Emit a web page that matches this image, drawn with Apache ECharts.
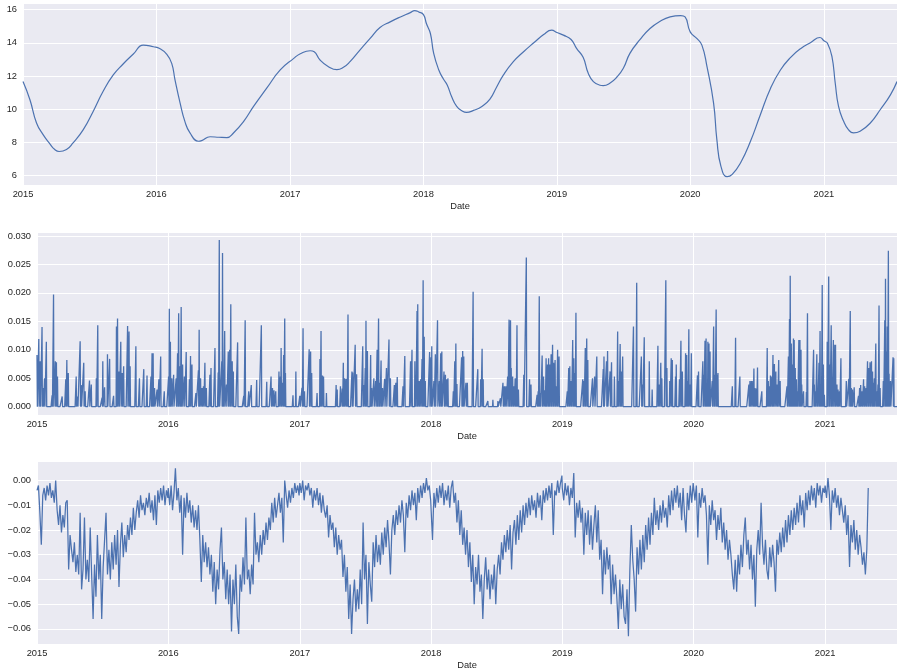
<!DOCTYPE html>
<html><head><meta charset="utf-8">
<script src="https://cdn.jsdelivr.net/npm/echarts@6/dist/echarts.min.js"></script>
<style>html,body{margin:0;padding:0;background:#fff}#c{width:897px;height:671px}</style>
</head><body><div id="c"></div>
<script>
// ---------- Panel 1: smooth trend (date, value) ----------
const trendDates = [
'2015-01-01','2015-01-20','2015-02-07','2015-02-25','2015-03-15','2015-03-29','2015-04-10','2015-04-30','2015-05-18','2015-06-15','2015-07-12','2015-08-08','2015-09-05','2015-10-02','2015-10-30','2015-11-26','2015-12-24',
'2016-01-10','2016-01-29','2016-02-12','2016-02-21','2016-03-06','2016-03-19','2016-04-02','2016-04-25','2016-05-04','2016-05-27','2016-06-20','2016-07-12','2016-07-30','2016-08-27','2016-09-23','2016-10-29','2016-12-05',
'2017-01-11','2017-01-29','2017-02-25','2017-03-08','2017-03-24','2017-04-16','2017-05-09','2017-05-27','2017-06-14','2017-07-11','2017-08-08','2017-09-04','2017-10-02','2017-10-30','2017-11-26','2017-12-08','2017-12-19',
'2018-01-01','2018-01-09','2018-01-20','2018-01-29','2018-02-12','2018-02-25','2018-03-07','2018-03-19','2018-04-02','2018-04-16','2018-04-29','2018-05-18','2018-06-10','2018-07-02','2018-07-20','2018-08-08','2018-09-04','2018-10-02','2018-10-30','2018-11-26','2018-12-18',
'2019-01-01','2019-01-19','2019-02-09','2019-02-24','2019-03-14','2019-03-28','2019-04-11','2019-04-29','2019-05-08','2019-05-26','2019-06-14','2019-07-02','2019-07-20','2019-08-17','2019-09-13','2019-10-11','2019-11-07','2019-12-06','2019-12-18',
'2020-01-01','2020-01-19','2020-02-02','2020-02-16','2020-03-05','2020-03-14','2020-03-25','2020-04-11','2020-04-25','2020-05-18','2020-06-14','2020-07-11','2020-08-08','2020-09-04','2020-10-02','2020-10-30','2020-11-26','2020-12-21',
'2021-01-01','2021-01-11','2021-01-23','2021-02-01','2021-02-10','2021-02-24','2021-03-09','2021-03-23','2021-04-10','2021-05-08','2021-06-04','2021-07-02','2021-07-20'];
const trendValues = [
11.66,10.56,9.16,8.46,7.92,7.56,7.44,7.56,7.96,8.76,9.86,11.06,12.06,12.72,13.32,13.86,13.76,
13.66,13.32,12.76,11.76,10.36,9.26,8.56,8.06,8.10,8.33,8.30,8.28,8.56,9.26,10.16,11.26,12.36,
13.06,13.34,13.52,13.46,12.96,12.56,12.38,12.52,12.86,13.56,14.26,14.92,15.26,15.56,15.82,15.94,15.86,
15.70,15.16,14.56,13.36,12.36,11.80,11.46,10.76,10.16,9.90,9.80,9.92,10.16,10.60,11.32,12.06,12.86,13.46,14.00,14.50,14.76,
14.62,14.46,14.20,13.66,13.12,12.16,11.66,11.44,11.42,11.56,11.92,12.46,13.36,14.20,14.86,15.30,15.56,15.64,15.56,
14.66,14.26,13.86,12.56,10.36,8.16,6.56,5.92,6.06,6.76,8.06,9.66,11.26,12.36,13.12,13.66,14.02,14.32,
14.12,13.96,13.16,11.56,10.16,9.26,8.76,8.56,8.66,9.16,9.96,10.86,11.66];

// ---------- Panel 2: spikes, [day of year, value x 1e-3]; other days 0 ----------
const spikes2015 = [[0,9.1],[5,11.9],[9,8.0],[14,14.0],[17,3.3],[21,5.0],[26,11.4],[42,2.0],[46,19.7],[51,8.0],[54,7.8],[57,5.3],[70,1.8],[80,4.8],[83,8.2],[87,5.9],[109,5.3],[113,1.8],[120,11.5],[123,3.8],[130,7.7],[134,2.7],[146,4.6],[151,3.9],[165,5.0],[169,14.3],[181,1.6],[183,8.0],[188,3.4],[196,9.2],[202,8.4],[213,1.9],[221,14.1],[224,15.5],[228,6.2],[233,11.4],[237,5.9],[241,7.1],[252,14.2],[256,13.2],[259,7.1],[275,10.6],[285,5.0],[297,6.6],[306,5.5],[317,5.3],[320,9.4],[323,9.4],[327,3.3],[334,3.0],[339,4.8],[344,8.8],[354,2.7]];
const spikes2016 = [[1,5.3],[3,17.2],[6,11.4],[10,5.0],[15,5.6],[22,5.0],[26,9.4],[29,16.4],[33,7.1],[36,17.5],[40,7.4],[45,5.3],[50,9.6],[59,4.8],[62,8.9],[66,7.4],[77,2.4],[84,6.4],[86,13.5],[90,5.0],[94,3.3],[98,3.6],[102,7.7],[106,3.3],[116,5.6],[119,6.8],[130,10.3],[139,6.0],[142,29.3],[149,8.0],[151,27.0],[153,3.3],[157,13.3],[162,3.9],[167,9.7],[171,10.0],[174,18.0],[178,8.0],[181,6.2],[193,11.3],[210,1.9],[214,15.2],[224,2.7],[231,3.8],[246,4.7],[259,14.3],[274,4.4],[286,5.3],[290,3.3],[294,2.9],[299,2.7],[308,6.2],[312,5.3],[314,10.3],[318,4.2],[321,9.1],[324,15.5],[326,5.9],[347,2.0],[355,6.2]];
const spikes2017 = [[0,1.9],[6,3.3],[9,13.8],[13,2.7],[26,10.1],[30,9.7],[33,5.9],[48,2.4],[56,8.4],[59,13.3],[63,5.5],[66,5.3],[74,2.4],[101,3.8],[104,3.0],[113,3.6],[118,3.2],[121,7.7],[124,5.0],[128,4.9],[131,4.9],[134,16.2],[145,6.2],[147,6.0],[154,10.9],[158,5.7],[175,10.6],[178,3.8],[182,6.8],[184,15.1],[188,9.8],[197,9.1],[200,3.3],[206,5.0],[211,4.5],[215,10.0],[219,15.5],[222,4.2],[226,8.1],[230,3.3],[236,4.9],[241,6.8],[248,11.8],[252,5.0],[263,3.8],[267,4.2],[271,5.2],[287,3.6],[292,8.9],[308,8.0],[312,10.0],[320,8.0],[322,4.5],[326,16.8],[328,18.0],[332,4.5],[336,4.8],[340,8.4],[343,22.2],[346,12.3],[349,4.5],[361,9.6]];
const spikes2018 = [[0,8.7],[2,10.6],[8,4.5],[12,9.2],[18,15.2],[23,4.5],[27,9.4],[30,9.7],[36,6.2],[40,5.6],[44,4.8],[47,5.0],[62,2.7],[66,8.0],[69,11.1],[72,4.0],[85,8.7],[88,9.8],[91,8.8],[97,4.2],[101,4.2],[117,20.2],[130,6.6],[138,4.8],[142,10.2],[145,4.8],[158,1.0],[172,1.2],[186,1.0],[193,1.5],[200,4.2],[204,3.6],[208,3.6],[213,5.3],[217,15.3],[221,15.2],[223,6.8],[227,5.3],[230,3.6],[234,5.0],[236,4.5],[239,14.3],[243,3.0],[258,5.6],[265,26.2],[274,4.8],[278,3.9],[295,2.1],[298,2.7],[301,19.4],[304,2.4],[309,9.0],[313,5.3],[317,2.9],[320,8.5],[324,7.4],[327,8.5],[330,7.4],[334,9.2],[338,10.9],[341,7.7],[345,8.2],[349,3.6],[352,10.0],[356,8.8]];
const spikes2019 = [[14,2.7],[18,6.8],[21,7.1],[25,4.5],[29,11.7],[32,8.5],[35,5.9],[38,16.5],[57,4.8],[60,4.5],[64,10.3],[68,12.0],[71,8.2],[84,5.0],[90,5.3],[96,8.8],[114,6.6],[116,8.8],[123,8.0],[126,9.8],[133,6.2],[137,7.8],[145,5.3],[154,13.2],[157,4.5],[161,11.0],[164,6.2],[168,8.8],[198,14.1],[207,21.8],[220,8.8],[223,3.9],[228,12.2],[242,8.0],[250,3.0],[266,10.7],[270,3.9],[274,7.7],[277,5.0],[288,22.2],[291,6.8],[299,4.5],[303,8.5],[306,8.2],[315,5.3],[317,7.4],[326,4.8],[330,11.6],[334,6.2],[343,9.4],[346,9.1],[349,4.5],[352,13.6],[356,3.9],[359,9.4]];
const spikes2020 = [[11,5.5],[14,6.2],[26,8.0],[28,5.6],[32,11.6],[35,12.0],[38,3.9],[40,11.4],[43,11.1],[46,9.7],[52,4.5],[56,14.1],[59,5.6],[63,17.1],[65,5.6],[68,5.9],[108,3.6],[117,12.1],[129,5.3],[154,3.9],[157,4.5],[161,4.5],[165,4.5],[168,6.7],[171,3.3],[175,3.2],[178,6.9],[190,2.7],[205,10.3],[208,4.5],[211,3.6],[214,5.5],[218,5.3],[221,9.1],[225,7.5],[229,6.2],[233,3.9],[237,8.2],[241,4.5],[260,3.6],[264,8.8],[267,15.4],[269,23.0],[272,11.1],[275,7.4],[278,12.0],[280,11.7],[283,6.8],[286,4.8],[289,2.7],[293,11.7],[296,11.7],[299,10.0],[301,3.9],[306,2.7],[314,2.6],[317,16.4],[334,10.0],[336,3.9],[339,2.7],[343,9.2],[345,2.7],[349,7.7],[352,13.3],[355,3.3],[358,21.4],[361,7.4],[364,2.1]];
const spikes2021 = [[6,11.4],[10,22.9],[13,7.4],[17,14.3],[19,4.5],[23,11.7],[27,10.9],[29,10.9],[33,3.9],[36,3.0],[40,2.7],[44,8.5],[59,4.5],[66,4.9],[70,16.8],[73,3.3],[76,3.0],[81,3.4],[93,1.9],[96,3.3],[99,3.8],[103,2.7],[107,4.8],[110,3.6],[114,3.3],[118,8.0],[121,6.8],[125,7.8],[129,8.0],[132,6.2],[134,4.2],[137,5.0],[141,11.1],[144,2.7],[147,3.9],[150,17.8],[153,3.3],[162,4.5],[166,15.2],[168,22.5],[171,9.7],[173,14.1],[176,27.4],[178,5.8],[182,4.5],[189,8.7],[191,8.5]];

// ---------- Panel 3: every 4th day from 1 Jan of each year, value x 1e-3 ----------
const resid2015 = [-4,-2,-13,-26,-6,-3,-8,-2,-6,-1,-7,-4,-9,0,-12,-18,-10,-21,-14,-19,-9,-8,-36,
-22,-28,-33,-25,-37,-30,-38,-13,-44,-36,-15,-40,-32,-41,-19,-38,-56,-34,-47,-22,-40,-30,-56,
-35,-24,-13,-38,-28,-40,-25,-36,-22,-34,-20,-43,-26,-17,-31,-22,-29,-18,-24,-15,-22,-11,-20,
-13,-8,-15,-6,-12,-9,-14,-7,-11,-5,-13,-8,-16,-6,-18,-4,-9,-3,-8,-2,-10,-4,-7];
const resid2016 = [-3,-10,-2,-12,-5,5,-8,-3,-13,-6,-30,-7,-15,-5,-13,-8,-17,-10,-19,-12,-20,-10,-24,
-41,-22,-33,-25,-35,-27,-38,-30,-45,-33,-50,-36,-44,-28,-19,-40,-33,-48,-36,-50,-38,-61,-40,
-50,-34,-55,-62,-38,-45,-31,-42,-15,-40,-36,-46,-34,-42,-13,-30,-25,-33,-22,-30,-20,-26,-17,
-24,-15,-20,-9,-17,-7,-15,-10,-5,-13,-7,-25,0,-6,-11,-4,-9,-3,-7,-1,-5,-2,-6];
const resid2017 = [-1,-5,0,-8,-2,-4,-1,-6,-3,-11,-4,-8,-3,-10,-5,-13,-6,-12,-15,-10,-23,-14,-20,
-17,-27,-19,-30,-22,-28,-24,-39,-30,-45,-35,-56,-42,-62,-48,-40,-53,-44,-52,-36,-50,-17,-40,
-30,-58,-33,-42,-49,-25,-35,-22,-33,-26,-34,-21,-30,-19,-27,-16,-25,-38,-20,-14,-22,-12,-18,
-10,-17,-8,-14,-29,-9,-15,-6,-12,-4,-10,-5,-16,-3,-9,-2,-7,-1,-5,1,-4,-2,-8];
const resid2018 = [-8,-24,-5,-11,-3,-9,-2,-7,-1,-10,-4,-8,-2,-11,-3,0,-9,-5,-17,-8,-22,-12,-26,
-19,-30,-20,-35,-25,-41,-30,-50,-35,-42,-30,-45,-38,-56,-40,-31,-44,-36,-48,-38,-44,-34,-50,
-36,-30,-38,-25,-32,-22,-29,-20,-28,-18,-36,-21,-16,-26,-14,-24,-12,-21,-10,-18,-9,-15,-7,
-14,-6,-12,-8,-15,-5,-11,-6,-16,-4,-9,-3,-8,-2,-7,-1,-22,-4,-6,0,-5,-1,2];
const resid2019 = [-3,-8,-1,-6,-2,-10,-3,-7,3,-23,-9,-15,-8,-17,-11,-30,-13,-22,-12,-26,-14,-28,-18,
-10,-25,-12,-32,-24,-46,-28,-38,-27,-36,-30,-50,-34,-46,-38,-48,-60,-40,-52,-42,-55,-58,-44,
-63,-36,-18,-32,-40,-53,-27,-38,-24,-36,-22,-33,-18,-28,-15,-26,-13,-22,-7,-18,-12,-20,-10,
-17,-8,-15,-11,-19,-6,-14,-4,-12,-3,-9,-2,-11,-5,-16,-3,-14,-21,-5,-12,-2,-9,-1];
const resid2020 = [-1,-8,-2,-23,-5,-11,-3,-9,-6,-14,-34,-10,-18,-8,-16,-12,-24,-14,-20,-11,-25,-17,-28,
-20,-32,-24,-30,-38,-44,-32,-45,-30,-38,-26,-35,-22,-15,-30,-24,-36,-26,-40,-30,-51,-28,-20,
-30,-9,-26,-34,-24,-36,-40,-27,-35,-26,-33,-45,-24,-30,-21,-29,-19,-27,-16,-25,-14,-22,-12,
-20,-11,-18,-9,-17,-6,-14,-8,-19,-5,-12,-4,-10,-2,-8,-3,-11,-1,-6,-2,-9,-3,-5];
const resid2021 = [-2,-7,1,-6,-20,-4,-9,-3,-11,-6,-14,-7,-12,-17,-10,-22,-14,-35,-18,-25,-16,-28,-20,-30,-22,-27,-34,-29,-38,-28,-3];

const yTicks1 = [6, 8, 10, 12, 14, 16];
const xMin = '2015-01-01', xMax = '2021-07-20';

// ---------- build ----------
const DAY = 86400000;
function ts(y, d) { return new Date(y, 0, 1 + d).getTime(); }
const trendData = trendDates.map((d, i) => [d, trendValues[i]]);

const startTs = ts(2015, 0), endTs = ts(2021, 200);
const nDays = Math.round((endTs - startTs) / DAY) + 1;
const spikeVals = new Array(nDays).fill(0);
const spikeSets = {2015: spikes2015, 2016: spikes2016, 2017: spikes2017, 2018: spikes2018, 2019: spikes2019, 2020: spikes2020, 2021: spikes2021};
Object.keys(spikeSets).forEach(y => {
  spikeSets[y].forEach(([d, v]) => {
    const idx = Math.round((ts(+y, d) - startTs) / DAY);
    if (idx >= 0 && idx < nDays) spikeVals[idx] = v / 1000;
  });
});
const spikeData = spikeVals.map((v, i) => [ts(2015, i), v]);

const residSets = {2015: resid2015, 2016: resid2016, 2017: resid2017, 2018: resid2018, 2019: resid2019, 2020: resid2020, 2021: resid2021};
const residData = [];
Object.keys(residSets).forEach(y => {
  residSets[y].forEach((v, k) => residData.push([ts(+y, 4 * k), v / 1000]));
});

const FONT = '"Liberation Sans", Arial, sans-serif';
const TXT = '#262626';
const BLUE = '#4C72B0';
function near(v, step) { return Math.abs(v / step - Math.round(v / step)) < 1e-6; }

function xAxisCfg(i) {
  return {
    type: 'time', gridIndex: i, min: xMin, max: xMax,
    splitNumber: 7, minInterval: 300 * DAY,
    name: 'Date', nameLocation: 'middle', nameGap: 17,
    nameTextStyle: {color: TXT, fontSize: 9.3, fontFamily: FONT},
    axisLine: {show: false}, axisTick: {show: false},
    axisLabel: {color: TXT, fontSize: 9.3, fontFamily: FONT, margin: 5,
      formatter: v => String(new Date(v).getFullYear())},
    splitLine: {show: true, lineStyle: {color: '#ffffff', width: 1}}
  };
}
function yAxisCfg(i, min, max, fmt) {
  return {
    type: 'value', gridIndex: i, min: min, max: max, splitNumber: 5,
    axisLine: {show: false}, axisTick: {show: false},
    axisLabel: {color: TXT, fontSize: 9.3, fontFamily: FONT, margin: 6, formatter: fmt},
    splitLine: {show: true, lineStyle: {color: '#ffffff', width: 1}}
  };
}
const gridBase = {show: true, backgroundColor: '#EAEAF2', borderWidth: 0, containLabel: false};

const chart = echarts.init(document.getElementById('c'), null, {renderer: 'canvas'});
chart.setOption({
  animation: false,
  backgroundColor: '#ffffff',
  grid: [
    Object.assign({left: 23, top: 3, width: 874, height: 182}, gridBase),
    Object.assign({left: 37, top: 232, width: 860, height: 183}, gridBase),
    Object.assign({left: 37, top: 461, width: 860, height: 183}, gridBase)
  ],
  xAxis: [xAxisCfg(0), xAxisCfg(1), xAxisCfg(2)],
  yAxis: [
    yAxisCfg(0, 5.42, 16.4, v => (near(v, 2) && yTicks1.indexOf(Math.round(v)) >= 0) ? String(Math.round(v)) : ''),
    yAxisCfg(1, -0.00146, 0.0307, v => near(v, 0.005) ? (Math.abs(v) < 1e-9 ? 0 : v).toFixed(3) : ''),
    yAxisCfg(2, -0.0661, 0.0079, v => {
      if (!near(v, 0.01)) return '';
      if (Math.abs(v) < 1e-9) return '0.00';
      return (v < 0 ? '\u2212' : '') + Math.abs(v).toFixed(2);
    })
  ],
  series: [
    {type: 'line', xAxisIndex: 0, yAxisIndex: 0, data: trendData, showSymbol: false,
     smooth: 0.5, lineStyle: {color: BLUE, width: 1.2}, itemStyle: {color: BLUE}},
    {type: 'line', xAxisIndex: 1, yAxisIndex: 1, data: spikeData, showSymbol: false, sampling: null,
     lineStyle: {color: BLUE, width: 1.3}, itemStyle: {color: BLUE}},
    {type: 'line', xAxisIndex: 2, yAxisIndex: 2, data: residData, showSymbol: false,
     lineStyle: {color: BLUE, width: 1.25}, itemStyle: {color: BLUE}}
  ]
});
</script></body></html>
